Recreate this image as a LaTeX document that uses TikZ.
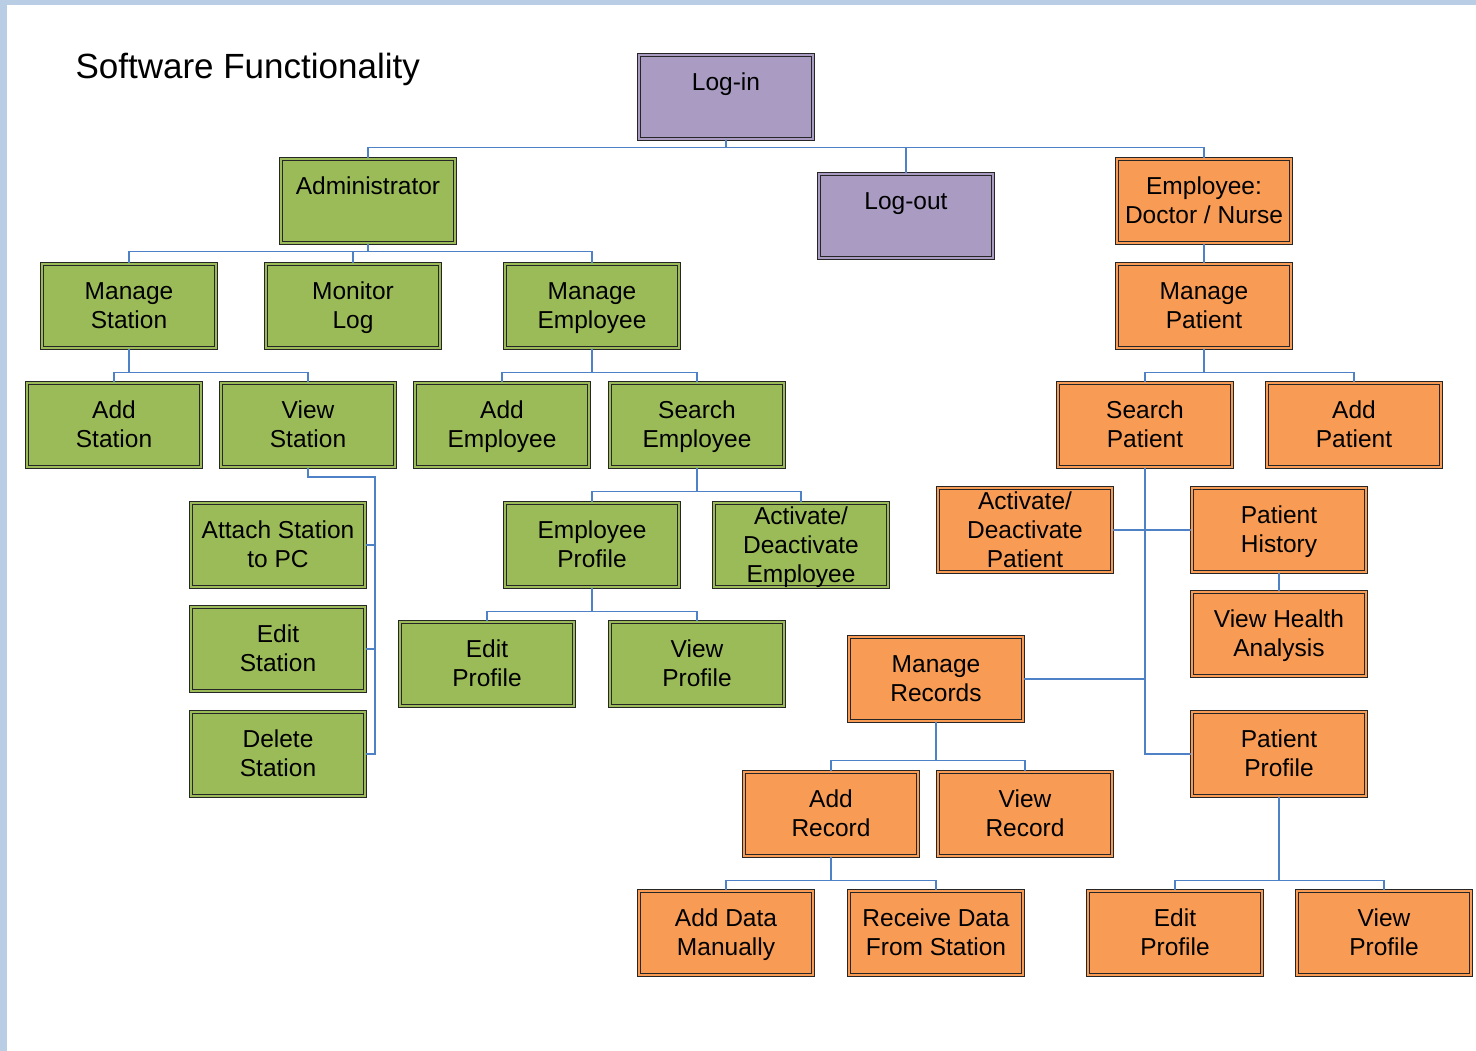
\documentclass[tikz,border=0pt]{standalone}
\usepackage{fontspec}
\setmainfont{Liberation Sans}
\definecolor{gfill}{HTML}{9BBB59}
\definecolor{ofill}{HTML}{F79B55}
\definecolor{pfill}{HTML}{A99BC1}
\definecolor{bline}{HTML}{262626}
\definecolor{conn}{HTML}{4F81C6}
\definecolor{frame}{HTML}{B9CDE5}
\newcommand{\bt}[1]{\raisebox{-8.8pt}[0pt][0pt]{\begin{tabular}[c]{@{}c@{}}#1\end{tabular}}}
\tikzset{
  box/.style={rectangle, draw=bline, line width=1.2pt, double distance=2.4pt,
    minimum width=174pt, minimum height=84pt, inner sep=0pt,
    font=\fontsize{24.5}{29}\selectfont},
  gbox/.style={box, fill=gfill, double=gfill},
  obox/.style={box, fill=ofill, double=ofill},
  pbox/.style={box, fill=pfill, double=pfill},
  wire/.style={draw=conn, line width=1.5pt}
}
\begin{document}
\begin{tikzpicture}[x=1pt,y=-1pt]
\useasboundingbox (0,0) rectangle (1476,1051);
\fill[white] (0,0) rectangle (1476,1051);
\fill[frame] (0,0) rectangle (1476,5);
\fill[frame] (0,0) rectangle (7,1051);

\node[anchor=west, font=\fontsize{35}{42}\selectfont] (title) at (72,69) {Software Functionality};

% nodes
\node[pbox] (login) at (726,97) {\bt{Log-in\\~}};
\node[gbox] (admin) at (368,201) {\bt{Administrator\\~}};
\node[pbox] (logout) at (906,216) {\bt{Log-out\\~}};
\node[obox] (emp) at (1204,201) {\bt{Employee:\\Doctor / Nurse}};
\node[gbox] (mstation) at (129,306) {\bt{Manage\\Station}};
\node[gbox] (monlog) at (353,306) {\bt{Monitor\\Log}};
\node[gbox] (memp) at (592,306) {\bt{Manage\\Employee}};
\node[obox] (mpat) at (1204,306) {\bt{Manage\\Patient}};
\node[gbox] (addst) at (114,425) {\bt{Add\\Station}};
\node[gbox] (viewst) at (308,425) {\bt{View\\Station}};
\node[gbox] (addemp) at (502,425) {\bt{Add\\Employee}};
\node[gbox] (searchemp) at (697,425) {\bt{Search\\Employee}};
\node[obox] (searchpat) at (1145,425) {\bt{Search\\Patient}};
\node[obox] (addpat) at (1354,425) {\bt{Add\\Patient}};
\node[gbox] (attach) at (278,545) {\bt{Attach Station\\to PC}};
\node[gbox] (empprof) at (592,545) {\bt{Employee\\Profile}};
\node[gbox] (actemp) at (801,545) {\bt{Activate/\\Deactivate\\Employee}};
\node[obox] (actpat) at (1025,530) {\bt{Activate/\\Deactivate\\Patient}};
\node[obox] (pathist) at (1279,530) {\bt{Patient\\History}};
\node[gbox] (editst) at (278,649) {\bt{Edit\\Station}};
\node[gbox] (editprof) at (487,664) {\bt{Edit\\Profile}};
\node[gbox] (viewprof) at (697,664) {\bt{View\\Profile}};
\node[obox] (vha) at (1279,634) {\bt{View Health\\Analysis}};
\node[obox] (mrec) at (936,679) {\bt{Manage\\Records}};
\node[gbox] (delst) at (278,754) {\bt{Delete\\Station}};
\node[obox] (patprof) at (1279,754) {\bt{Patient\\Profile}};
\node[obox] (addrec) at (831,814) {\bt{Add\\Record}};
\node[obox] (viewrec) at (1025,814) {\bt{View\\Record}};
\node[obox] (adddata) at (726,933) {\bt{Add Data\\Manually}};
\node[obox] (recv) at (936,933) {\bt{Receive Data\\From Station}};
\node[obox] (peditprof) at (1175,933) {\bt{Edit\\Profile}};
\node[obox] (pviewprof) at (1384,933) {\bt{View\\Profile}};

% connectors
\draw[wire] (login.south) -- ++(0,8) -| (admin.north);
\draw[wire] (login.south) -- ++(0,8) -| (logout.north);
\draw[wire] (login.south) -- ++(0,8) -| (emp.north);

\draw[wire] (admin.south) -- ++(0,8) -| (mstation.north);
\draw[wire] (admin.south) -- ++(0,8) -| (monlog.north);
\draw[wire] (admin.south) -- ++(0,8) -| (memp.north);

\draw[wire] (emp.south) -- (mpat.north);

\draw[wire] (mstation.south) -- ++(0,24) -| (addst.north);
\draw[wire] (mstation.south) -- ++(0,24) -| (viewst.north);

\coordinate (vsbus) at (375,477);
\draw[wire] (viewst.south) |- (vsbus) |- (attach.east);
\draw[wire] (vsbus) |- (editst.east);
\draw[wire] (vsbus) |- (delst.east);

\draw[wire] (memp.south) -- ++(0,24) -| (addemp.north);
\draw[wire] (memp.south) -- ++(0,24) -| (searchemp.north);

\draw[wire] (searchemp.south) -- ++(0,24) -| (empprof.north);
\draw[wire] (searchemp.south) -- ++(0,24) -| (actemp.north);

\draw[wire] (empprof.south) -- ++(0,24) -| (editprof.north);
\draw[wire] (empprof.south) -- ++(0,24) -| (viewprof.north);

\draw[wire] (mpat.south) -- ++(0,24) -| (searchpat.north);
\draw[wire] (mpat.south) -- ++(0,24) -| (addpat.north);

\draw[wire] (searchpat.south) |- (patprof.west);
\draw[wire] (actpat.east) -- (pathist.west);
\draw[wire] (mrec.east) -- (searchpat.south |- mrec.east);
\draw[wire] (pathist.south) -- (vha.north);

\draw[wire] (mrec.south) -- ++(0,39) -| (addrec.north);
\draw[wire] (mrec.south) -- ++(0,39) -| (viewrec.north);

\draw[wire] (addrec.south) -- ++(0,24) -| (adddata.north);
\draw[wire] (addrec.south) -- ++(0,24) -| (recv.north);

\draw[wire] (patprof.south) -- ++(0,84) -| (peditprof.north);
\draw[wire] (patprof.south) -- ++(0,84) -| (pviewprof.north);
\end{tikzpicture}
\end{document}
